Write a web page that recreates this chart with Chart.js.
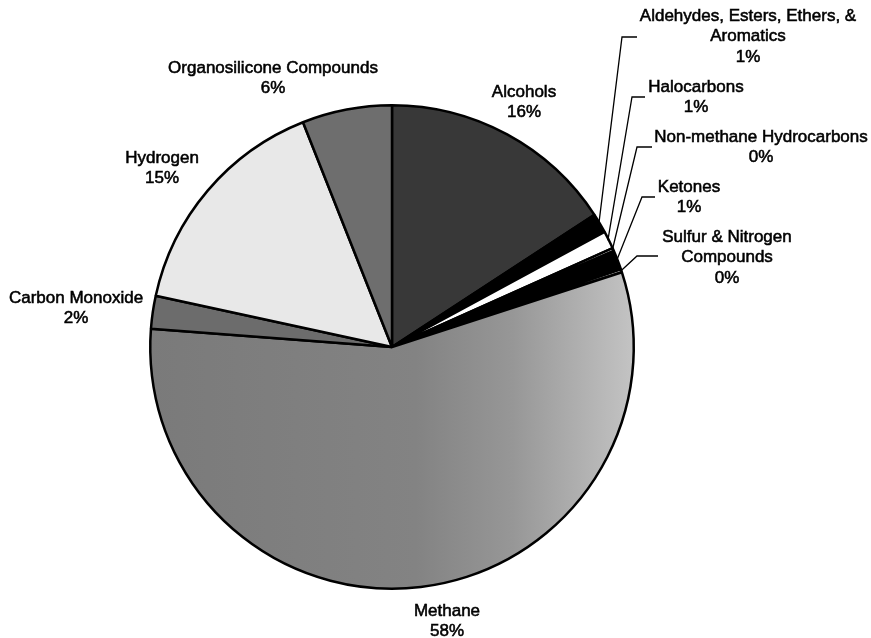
<!DOCTYPE html>
<html>
<head>
<meta charset="utf-8">
<script src="https://cdn.jsdelivr.net/npm/chart.js@4.4.0/dist/chart.umd.min.js"></script>
<style>
  html, body { margin: 0; padding: 0; background: #ffffff; }
  #wrap { width: 871px; height: 638px; position: relative; }
</style>
</head>
<body>
<div id="wrap"><canvas id="c" width="871" height="638"></canvas></div>
<script>
// ---- data ----
const categories = [
  "Alcohols",
  "Aldehydes, Esters, Ethers, & Aromatics",
  "Halocarbons",
  "Non-methane Hydrocarbons",
  "Ketones",
  "Sulfur & Nitrogen Compounds",
  "Methane",
  "Carbon Monoxide",
  "Hydrogen",
  "Organosilicone Compounds"
];
const shares = [15.8, 1.3, 1.2, 0.2, 1.3, 0.2, 56.2, 2.2, 15.6, 6.0];
const shareLabels = ["16%", "1%", "1%", "0%", "1%", "0%", "58%", "2%", "15%", "6%"];
const labelLines = [
  ["Alcohols"],
  ["Aldehydes, Esters, Ethers, &", "Aromatics"],
  ["Halocarbons"],
  ["Non-methane Hydrocarbons"],
  ["Ketones"],
  ["Sulfur & Nitrogen", "Compounds"],
  ["Methane"],
  ["Carbon Monoxide"],
  ["Hydrogen"],
  ["Organosilicone Compounds"]
];

// ---- styles / layout ----
const fills = ["#383838", "#000000", "#ffffff", "#ffffff", "#000000", "#ffffff",
               "methane", "#6c6c6c", "#e8e8e8", "#6e6e6e"];
const labelPos = [
  {x: 524, y: 92},
  {x: 748, y: 16},
  {x: 696, y: 87},
  {x: 761, y: 137},
  {x: 689, y: 187},
  {x: 727, y: 237},
  {x: 447, y: 611},
  {x: 76,  y: 298},
  {x: 162, y: 158},
  {x: 273, y: 68}
];
const leaders = {
  1: {ex: 622, ey: 37,  hx: 637},
  2: {ex: 632, ey: 97,  hx: 645},
  3: {ex: 637, ey: 147, hx: 652},
  4: {ex: 642, ey: 197, hx: 655},
  5: {ex: 637, ey: 256, hx: 658}
};

const labelPlugin = {
  id: 'pieLabels',
  afterDatasetsDraw(chart) {
    const ctx = chart.ctx;
    const meta = chart.getDatasetMeta(0);
    ctx.save();
    // leader lines
    ctx.strokeStyle = '#000';
    ctx.lineWidth = 1.3;
    Object.keys(leaders).forEach(k => {
      const i = +k;
      const arc = meta.data[i];
      const p = arc.getProps(['x', 'y', 'startAngle', 'endAngle', 'outerRadius'], true);
      const mid = (p.startAngle + p.endAngle) / 2;
      const r = p.outerRadius - 1;
      const sx = p.x + Math.cos(mid) * r;
      const sy = p.y + Math.sin(mid) * r;
      const L = leaders[k];
      ctx.beginPath();
      ctx.moveTo(sx, sy);
      ctx.lineTo(L.ex, L.ey);
      ctx.lineTo(L.hx, L.ey);
      ctx.stroke();
    });
    // texts
    ctx.fillStyle = '#000';
    ctx.strokeStyle = '#000';
    ctx.lineWidth = 0.55;
    ctx.font = '17px "Liberation Sans", Arial, sans-serif';
    ctx.textAlign = 'center';
    ctx.textBaseline = 'middle';
    categories.forEach((c, i) => {
      const lines = labelLines[i].concat([shareLabels[i]]);
      const pos = labelPos[i];
      lines.forEach((t, j) => {
        ctx.fillText(t, pos.x, pos.y + j * 20.5);
        ctx.strokeText(t, pos.x, pos.y + j * 20.5);
      });
    });
    ctx.restore();
  }
};

const chart = new Chart(document.getElementById('c'), {
  type: 'pie',
  data: {
    labels: categories,
    datasets: [{
      data: shares,
      backgroundColor: (context) => {
        const f = fills[context.dataIndex];
        if (f !== 'methane') return f;
        const ch = context.chart;
        const area = ch.chartArea;
        if (!area) return '#8a8a8a';
        const g = ch.ctx.createLinearGradient(area.left, 0, area.right, 0);
        g.addColorStop(0, '#7a7a7a');
        g.addColorStop(0.55, '#838383');
        g.addColorStop(0.75, '#979797');
        g.addColorStop(1, '#c4c4c4');
        return g;
      },
      borderColor: '#000000',
      borderWidth: 2.5
    }]
  },
  options: {
    responsive: false,
    animation: false,
    layout: { padding: { left: 149, right: 236, top: 104, bottom: 48 } },
    plugins: {
      legend: { display: false },
      tooltip: { enabled: false },
      title: { display: false }
    }
  },
  plugins: [labelPlugin]
});
</script>
</body>
</html>
